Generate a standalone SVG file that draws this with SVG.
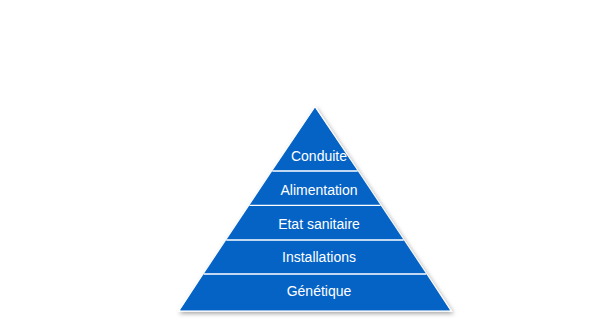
<svg xmlns="http://www.w3.org/2000/svg" width="610" height="324" viewBox="0 0 610 324">
<defs>
<style>
.band{fill:#0563C6;stroke:none}
.div{stroke:#ffffff;stroke-width:1.3}
.lbl{font-family:"Liberation Sans",Arial,sans-serif;font-size:14px;fill:#ffffff;text-anchor:middle}
</style>
<filter id="sh" x="-10%" y="-10%" width="120%" height="120%">
<feDropShadow dx="1.5" dy="2" stdDeviation="2" flood-color="#000000" flood-opacity="0.35"/>
</filter>
</defs>
<rect width="610" height="324" fill="#ffffff"/>
<polygon points="315,107 451,311 179,311" fill="#0563C6" stroke="#ffffff" stroke-width="1.5" filter="url(#sh)"/>
<g id="conduite">
<polygon class="band" points="315,107.8 357.7,171 272.3,171"/>
<text class="lbl" x="319" y="161">Conduite</text>
</g>
<g id="alimentation">
<polygon class="band" points="272.3,171 357.7,171 380.5,205.3 249.5,205.3"/>
<text class="lbl" x="319" y="195">Alimentation</text>
</g>
<g id="etat-sanitaire">
<polygon class="band" points="249.5,205.3 380.5,205.3 403.7,240 226.3,240"/>
<text class="lbl" x="319" y="229">Etat sanitaire</text>
</g>
<g id="installations">
<polygon class="band" points="226.3,240 403.7,240 426.3,274 203.7,274"/>
<text class="lbl" x="319" y="262">Installations</text>
</g>
<g id="genetique">
<polygon class="band" points="203.7,274 426.3,274 450,310.3 180,310.3"/>
<text class="lbl" x="319" y="296">Génétique</text>
</g>
<g id="dividers">
<line class="div" x1="272.3" y1="171" x2="357.7" y2="171"/>
<line class="div" x1="249.5" y1="205.3" x2="380.5" y2="205.3"/>
<line class="div" x1="226.3" y1="240" x2="403.7" y2="240"/>
<line class="div" x1="203.7" y1="274" x2="426.3" y2="274"/>
</g>
</svg>
